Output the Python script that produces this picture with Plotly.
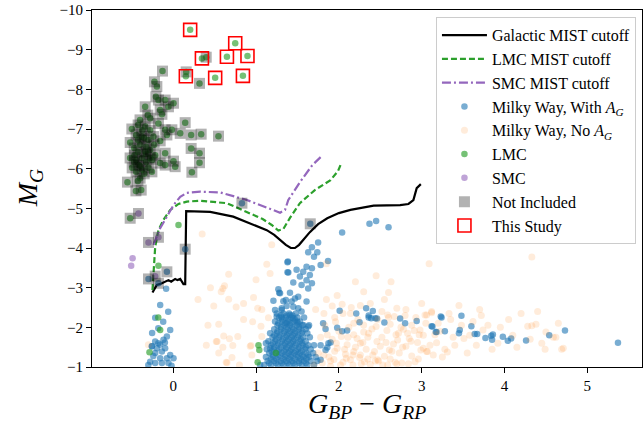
import plotly.graph_objects as go

# ---------------- cutoff curves ----------------
gal_x = [-0.25, -0.197, -0.136, -0.057, -0.024, 0.024, 0.052, 0.085, 0.124, 0.145, 0.157, 0.447, 0.725,
         1.13, 1.22, 1.29, 1.36, 1.42, 1.47, 1.52, 1.58, 1.65, 1.75, 1.86, 2.0, 2.14, 2.42, 2.74, 2.84,
         2.90, 2.94, 2.99]
gal_y = [-2.88, -3.07, -3.11, -3.19, -3.15, -3.22, -3.19, -3.22, -3.09, -3.09, -4.93, -4.91, -4.79,
         -4.45, -4.33, -4.20, -4.08, -4.00, -4.00, -4.08, -4.22, -4.40, -4.60, -4.75, -4.88, -4.96, -5.07,
         -5.08, -5.11, -5.21, -5.51, -5.61]

lmc_cut_x = [-0.25, -0.238, -0.217, -0.178, -0.117, -0.036, 0.064, 0.165, 0.326, 0.649, 0.93, 1.08,
             1.19, 1.27, 1.33, 1.41, 1.53, 1.71, 1.90, 1.99, 2.02]
lmc_cut_y = [-2.94, -3.45, -4.03, -4.45, -4.71, -4.96, -5.11, -5.17, -5.19, -5.13, -4.88, -4.73,
             -4.58, -4.44, -4.48, -4.76, -5.13, -5.46, -5.71, -5.94, -6.09]

smc_cut_x = [-0.238, -0.157, -0.076, 0.004, 0.085, 0.165, 0.326, 0.568, 0.89, 1.11, 1.21, 1.29, 1.35,
             1.39, 1.53, 1.68, 1.78]
smc_cut_y = [-4.08, -4.50, -4.79, -5.08, -5.29, -5.39, -5.42, -5.40, -5.21, -5.03, -4.96, -4.89, -4.96,
             -5.21, -5.66, -6.09, -6.29]

# ---------------- Milky Way, with A_G ----------------
mw_ag_x = [
    # main cluster, scattered
    1.675, 1.75, 1.63, 1.74, 1.70, 1.78, 1.87, 1.385, 1.61, 1.675, 1.49, 1.57, 1.39, 1.65, 1.53, 1.61,
    1.45, 1.675, 1.55, 1.63, 1.27, 1.29, 1.41, 1.51, 1.47, 1.21, 1.33, 1.43, 1.61, 1.37, 1.45, 1.51,
    1.23, 1.31, 1.55, 1.41, 1.45, 1.25, 1.31, 1.50, 1.37, 1.57, 1.63, 1.38, 1.38, 1.28, 1.36, 1.31,
    # dense core
    1.10, 1.18, 1.26, 1.33, 1.40, 1.47, 1.55, 1.62, 1.70,
    1.14, 1.22, 1.30, 1.37, 1.44, 1.52, 1.58, 1.66, 1.74,
    1.12, 1.20, 1.27, 1.35, 1.42, 1.50, 1.57, 1.64, 1.72,
    1.16, 1.24, 1.31, 1.39, 1.46, 1.53, 1.61, 1.69,
    1.13, 1.21, 1.28, 1.36, 1.43, 1.51, 1.59, 1.66,
    1.18, 1.26, 1.34, 1.41, 1.48, 1.56, 1.63, 1.70,
    1.15, 1.23, 1.31, 1.38, 1.45, 1.53, 1.60,
    1.20, 1.28, 1.36, 1.43, 1.50, 1.57, 1.65,
    1.17, 1.25, 1.33, 1.40, 1.47, 1.55, 1.62,
    1.22, 1.30, 1.38, 1.45, 1.52, 1.60,
    1.26, 1.34, 1.41, 1.49, 1.56, 1.64,
    1.23, 1.31, 1.39, 1.46, 1.53,
    1.28, 1.36, 1.43, 1.50, 1.58,
    1.25, 1.33, 1.40, 1.48,
    1.16, 1.24, 1.31, 1.38, 1.45, 1.52, 1.60,
    1.18, 1.25, 1.33, 1.40, 1.47, 1.54, 1.61,
    1.20, 1.28, 1.35, 1.42, 1.49, 1.56, 1.63,
    1.19, 1.26, 1.34, 1.41, 1.48, 1.55,
    1.22, 1.30, 1.37, 1.44, 1.52, 1.60,
    1.20, 1.27, 1.35, 1.42, 1.49, 1.56,
    1.24, 1.32, 1.39, 1.46, 1.54,
    1.22, 1.29, 1.37, 1.44, 1.51,
    1.26, 1.34, 1.41, 1.48, 1.56,
    1.30, 1.37, 1.44, 1.52,
    1.27, 1.35, 1.42, 1.50,
    1.32, 1.39, 1.47,
    1.30, 1.37, 1.44,
    1.05, 1.12, 1.17, 1.78, 1.84, 1.875, 1.81, 1.84, 1.90, 1.86, 1.78,
    # upper scattered
    2.04, 2.37, 2.45, 2.60, 1.655, 0.83, 0.145,
    # spread into red-giant region
    2.01, 2.21, 2.33, 2.41, 2.36, 2.39, 2.46, 2.55, 2.74, 2.80, 2.94, 2.25, 1.98, 2.04, 2.10, 3.13,
    3.18, 3.23, 2.44, 2.36,
    # tail
    3.24, 3.48, 3.12, 3.17, 3.28, 3.46, 3.45, 3.60, 3.64, 3.67, 3.77, 3.84, 3.86, 3.85, 3.98, 4.04,
    4.08, 4.26, 4.54, 4.73, 5.37,
    # blue-left clump
    -0.076, -0.117, -0.217, -0.18, -0.157, -0.257, -0.197, -0.097, -0.136, -0.217, -0.036, 0.004,
    -0.076, -0.157, -0.278, -0.217, -0.136, -0.057, -0.257, -0.157, -0.06, -0.217, -0.12, -0.18,
    -0.036, -0.254, -0.085, -0.076, -0.298, -0.178, -0.30, -0.02, -0.24, -0.10,
]
mw_ag_y = [
    -4.02, -4.14, -3.89, -3.89, -3.78, -3.57, -3.67, -3.66, -3.53, -3.49, -3.45, -3.40, -3.38, -3.32, -3.28, -3.19,
    -3.13, -3.11, -3.07, -2.98, -2.96, -2.86, -2.87, -2.77, -2.73, -2.67, -2.66, -2.65, -2.65, -2.54, -2.52, -2.48,
    -2.44, -2.44, -2.40, -2.31, -2.23, -2.27, -2.25, -2.14, -2.10, -2.06, -2.02, -3.64, -3.39, -2.87, -2.69, -2.48,
    -1.05, -1.05, -1.05, -1.05, -1.05, -1.05, -1.05, -1.05, -1.05,
    -1.15, -1.15, -1.15, -1.15, -1.15, -1.15, -1.15, -1.15, -1.15,
    -1.25, -1.25, -1.25, -1.25, -1.25, -1.25, -1.25, -1.25, -1.25,
    -1.35, -1.35, -1.35, -1.35, -1.35, -1.35, -1.35, -1.35,
    -1.45, -1.45, -1.45, -1.45, -1.45, -1.45, -1.45, -1.45,
    -1.55, -1.55, -1.55, -1.55, -1.55, -1.55, -1.55, -1.55,
    -1.65, -1.65, -1.65, -1.65, -1.65, -1.65, -1.65,
    -1.75, -1.75, -1.75, -1.75, -1.75, -1.75, -1.75,
    -1.85, -1.85, -1.85, -1.85, -1.85, -1.85, -1.85,
    -1.95, -1.95, -1.95, -1.95, -1.95, -1.95,
    -2.05, -2.05, -2.05, -2.05, -2.05, -2.05,
    -2.15, -2.15, -2.15, -2.15, -2.15,
    -2.25, -2.25, -2.25, -2.25, -2.25,
    -2.35, -2.35, -2.35, -2.35,
    -1.10, -1.10, -1.10, -1.10, -1.10, -1.10, -1.10,
    -1.20, -1.20, -1.20, -1.20, -1.20, -1.20, -1.20,
    -1.30, -1.30, -1.30, -1.30, -1.30, -1.30, -1.30,
    -1.40, -1.40, -1.40, -1.40, -1.40, -1.40,
    -1.50, -1.50, -1.50, -1.50, -1.50, -1.50,
    -1.60, -1.60, -1.60, -1.60, -1.60, -1.60,
    -1.70, -1.70, -1.70, -1.70, -1.70,
    -1.80, -1.80, -1.80, -1.80, -1.80,
    -1.90, -1.90, -1.90, -1.90, -1.90,
    -2.00, -2.00, -2.00, -2.00,
    -2.10, -2.10, -2.10, -2.10,
    -2.20, -2.20, -2.20,
    -2.30, -2.30, -2.30,
    -1.05, -1.60, -1.47, -1.18, -1.43, -1.60, -2.10, -1.96, -1.62, -1.49, -1.55,
    -4.39, -4.61, -4.68, -4.52, -4.61, -5.13, -3.97,
    -2.42, -2.35, -2.48, -2.41, -2.30, -2.23, -2.22, -2.12, -2.22, -2.10, -2.16, -2.13, -1.99, -1.90, -1.92, -2.02,
    -1.88, -2.27, -2.23, -2.25,
    -2.25, -2.29, -2.03, -1.88, -1.90, -1.93, -1.85, -2.03, -1.83, -1.83, -1.73, -1.79, -1.82, -1.69, -1.76, -1.66,
    -1.72, -1.67, -1.80, -1.92, -1.61,
    -1.77, -1.69, -1.64, -1.60, -1.56, -1.52, -1.47, -1.47, -1.39, -1.35, -1.30, -1.22,
    -1.22, -1.22, -1.13, -1.10, -1.10, -1.10, -1.52, -2.56, -2.39, -2.24, -2.14, -1.98,
    -1.93, -1.86, -2.97, -3.40, -3.22, -3.11, -1.05, -1.03, -1.28, -1.62,
]

# ---------------- Milky Way, no A_G ----------------
mw_noag_x = [
    2.63, 2.60, 1.92, 2.04, 2.26, 2.14, 1.96, 1.82, 2.59, 2.67, 2.81, 3.06, 3.12, 2.18, 2.30, 2.45,
    2.69, 2.83, 2.97, 1.86, 2.03, 2.18, 2.36, 2.46, 2.26, 2.10, 1.98, 2.71, 2.85, 2.99, 3.07, 2.81,
    2.61, 2.43, 2.26, 1.94, 2.09, 2.31, 2.47, 2.76, 2.92, 2.17, 2.59, 1.82, 2.18,
    0.35, 1.19, 0.67, 0.62, 0.58, 0.60, 1.13, 1.17, 0.67, 0.49, 0.76, 0.97, 1.02, 1.07, 1.15, 0.55,
    0.96, 1.06, 0.61, 0.53, 0.68, 0.72, 0.78, 0.60, 0.93, 0.71, 0.65, 0.52, 0.64, -0.30, 1.07, 0.94,
    3.09, 4.33, 3.04, 3.12, 3.51, 3.74, 4.28, 4.38, 4.33, 4.50, 4.59, 4.62, 4.69, 4.71, 4.49, 3.18,
    3.31, 3.02, 3.06, 4.31, 3.16, 2.98,
    1.80, 1.88, 1.95, 2.02, 2.08, 2.14, 2.20, 2.25, 2.33, 2.38, 2.41, 2.50, 2.55, 2.62, 2.66, 2.73,
    2.78, 2.88, 2.95, 1.92, 2.00, 2.12, 2.22, 2.30, 2.40, 2.52, 2.58, 2.62, 2.75, 2.88, 2.93, 2.52,
    2.38, 2.15, 1.95, 2.70, 3.20, 3.35, 3.40, 3.55, 3.62, 3.80, 3.92, 4.05, 4.15, 3.25, 3.00, 3.45,
    3.70, 2.20, 1.85, 0.40, 0.85, 0.45, 4.40, 1.85, 2.48, 2.05, 2.35, 2.70, 1.90,
    1.75, 1.78, 1.83, 1.90, 1.97, 2.05, 2.07, 2.11, 2.17, 2.23, 2.27, 2.29, 2.35, 2.44, 2.47, 2.53,
    2.57, 2.60, 2.64, 2.68, 2.72, 2.77, 2.80, 2.84, 2.87, 2.91, 2.96, 3.02, 3.05, 3.10, 3.14, 3.22,
    3.28, 3.33, 3.38, 3.48, 3.58, 3.66, 3.72, 3.85, 3.95, 4.10, 4.20, 4.45, 4.65, 1.70, 1.72, 1.98,
    2.30, 2.55, 2.45, 0.30, 0.95, 0.80, 0.55, 0.85, 1.00, 0.42,
]
mw_noag_y = [
    -3.15, -2.88, -2.54, -2.58, -2.55, -2.35, -2.14, -2.35, -2.31, -2.27, -2.45, -2.31, -2.40, -2.10, -2.06, -2.02,
    -1.81, -1.85, -1.81, -1.81, -1.77, -1.81, -1.85, -1.64, -1.60, -1.56, -1.47, -1.68, -1.72, -1.43, -1.39, -1.52,
    -1.43, -1.39, -1.30, -1.19, -1.22, -1.13, -1.18, -1.10, -1.13, -1.05, -1.05, -1.30, -1.39,
    -4.35, -4.08, -3.34, -3.05, -2.90, -2.98, -3.59, -3.36, -2.71, -2.54, -2.51, -2.75, -2.48, -2.45, -2.24, -2.08,
    -2.14, -2.03, -1.78, -1.64, -1.71, -1.54, -1.77, -1.50, -1.52, -1.24, -1.11, -1.64, -1.12, -1.56, -1.77, -1.54,
    -3.60, -3.77, -2.31, -2.37, -1.72, -1.93, -2.03, -2.08, -2.04, -1.88, -1.75, -1.75, -1.45, -1.47, -1.45, -1.61,
    -1.38, -1.47, -1.39, -1.70, -1.81, -1.93,
    -1.10, -1.25, -1.40, -1.05, -1.32, -1.18, -1.50, -1.24, -1.45, -1.06, -1.30, -1.52, -1.27, -1.20, -1.58, -1.35,
    -1.95, -1.28, -1.62, -1.70, -1.90, -2.00, -1.72, -1.88, -1.96, -1.75, -1.92, -2.08, -2.00, -2.05, -2.25, -2.40,
    -2.60, -2.50, -2.25, -2.48, -2.10, -2.20, -1.55, -1.35, -2.15, -2.05, -1.60, -2.20, -1.50, -1.25, -2.60, -2.55,
    -2.45, -3.15, -2.70, -1.55, -2.20, -3.00, -2.40, -3.60, -1.15, -1.12, -1.20, -1.08, -1.02,
    -1.35, -1.75, -2.05, -1.15, -1.60, -2.35, -1.45, -1.75, -1.30, -2.20, -1.08, -1.62, -1.75, -1.15, -2.20, -1.05,
    -1.62, -2.25, -1.40, -1.12, -1.85, -1.50, -2.30, -1.08, -1.65, -1.92, -1.20, -1.80, -2.10, -1.55, -1.30, -1.90,
    -1.45, -2.35, -1.75, -2.05, -1.80, -1.55, -2.30, -1.45, -2.00, -1.80, -2.35, -1.60, -2.10, -1.05, -2.45, -2.80,
    -2.90, -2.70, -3.30, -2.70, -1.30, -1.05, -1.35, -2.60, -3.20, -2.05,
]

# ---------------- LMC ----------------
lmc_x = [
    -0.129, -0.226, -0.197, -0.209, -0.178, -0.097, -0.338, 0.004, -0.057, -0.157, -0.136, -0.306,
    -0.278, 0.145, -0.178, -0.499, -0.338, -0.097, -0.016, 0.085, -0.076, 0.217, 0.338, 0.547,
    -0.519, -0.157, -0.378, -0.238, 0.217, 0.318, -0.097, -0.217, -0.467, -0.338, 0.004, 0.318,
    -0.157, -0.097, 0.024, -0.419, -0.257, 0.226, -0.399, -0.552, -0.426, -0.45, -0.386,
    -0.423, -0.374, -0.447, -0.30, -0.40, -0.47, -0.326, -0.423, -0.278, -0.374, -0.447, -0.326,
    -0.40, -0.495, -0.30, -0.447, -0.35, -0.254, -0.23, -0.278, -0.40, -0.35, -0.423, -0.278,
    -0.374, -0.47, -0.52, -0.326,
    0.399, 0.157, 0.318,
    0.205, 0.749, 0.897, 0.649, 0.347, 0.153, 0.507, 0.842,
    0.064, -0.178, -0.519, 1.04, 1.02, 1.24, 1.03, -0.286, -0.157, -0.18,
]
lmc_y = [
    -8.46, -8.19, -8.07, -7.81, -7.73, -7.73, -7.56, -7.65, -7.56, -7.48, -7.37, -7.35,
    -7.27, -7.16, -7.14, -7.00, -7.06, -6.98, -6.98, -6.89, -6.85, -6.85, -6.87, -6.82,
    -6.66, -6.70, -6.81, -6.81, -6.51, -6.39, -6.39, -6.34, -6.34, -6.43, -6.19, -6.15,
    -6.14, -6.09, -6.05, -6.09, -5.92, -5.91, -5.76, -5.66, -5.69, -5.44, -5.46,
    -7.10, -6.97, -6.85, -6.72, -6.60, -6.52, -6.55, -6.42, -6.47, -6.27, -6.22, -6.17,
    -6.07, -6.02, -6.02, -5.92, -5.87, -6.22, -6.60, -6.97, -7.23, -6.77, -6.72, -6.27,
    -5.97, -6.17, -6.27, -6.37,
    -8.81, -8.44, -8.15,
    -9.50, -9.16, -8.84, -8.82, -8.78, -8.33, -8.29, -8.34,
    -4.58, -3.55, -4.75, -1.43, -1.12, -1.35, -1.55, -1.37, -1.93, -2.25,
]

# ---------------- SMC ----------------
smc_x = [-0.419, -0.298, -0.178, -0.217, -0.49, -0.507]
smc_y = [-4.87, -4.14, -4.27, -3.29, -3.74, -3.55]

# ---------------- Not included ----------------
excl_x = lmc_x[:78] + [-0.519, -0.419, -0.298, -0.178, 0.145, -0.076, -0.298, -0.217, -0.178, 1.655, 0.83]
excl_y = lmc_y[:78] + [-4.75, -4.87, -4.14, -4.27, -3.97, -3.40, -3.22, -3.29, -3.11, -4.61, -5.13]

# ---------------- This study ----------------
study_x = [0.205, 0.749, 0.897, 0.649, 0.347, 0.153, 0.507, 0.842]
study_y = [-9.50, -9.16, -8.84, -8.82, -8.78, -8.33, -8.29, -8.34]

x_ticks = [0, 1, 2, 3, 4, 5]

fig = go.Figure()
fig.add_trace(go.Scatter(x=gal_x, y=gal_y, mode="lines", name="Galactic MIST cutoff",
                         line=dict(color="black", width=2.2)))
fig.add_trace(go.Scatter(x=lmc_cut_x, y=lmc_cut_y, mode="lines", name="LMC MIST cutoff",
                         line=dict(color="#2ca02c", width=2.2, dash="6px,3px")))
fig.add_trace(go.Scatter(x=smc_cut_x, y=smc_cut_y, mode="lines", name="SMC MIST cutoff",
                         line=dict(color="#9467bd", width=2.2, dash="9px,3px,2px,3px")))
fig.add_trace(go.Scatter(x=mw_ag_x, y=mw_ag_y, mode="markers",
                         name="Milky Way, With <i>A<sub>G</sub></i>",
                         marker=dict(color="rgba(31,119,180,0.6)", size=6.5, line=dict(width=0))))
fig.add_trace(go.Scatter(x=mw_noag_x, y=mw_noag_y, mode="markers",
                         name="Milky Way, No <i>A<sub>G</sub></i>",
                         marker=dict(color="rgba(255,127,14,0.15)", size=7, line=dict(width=0))))
fig.add_trace(go.Scatter(x=lmc_x, y=lmc_y, mode="markers", name="LMC",
                         marker=dict(color="rgba(44,160,44,0.65)", size=6.5, line=dict(width=0))))
fig.add_trace(go.Scatter(x=smc_x, y=smc_y, mode="markers", name="SMC",
                         marker=dict(color="rgba(148,103,189,0.6)", size=6.5, line=dict(width=0))))
fig.add_trace(go.Scatter(x=excl_x, y=excl_y, mode="markers", name="Not Included",
                         marker=dict(symbol="square", color="rgba(0,0,0,0.3)", size=11, line=dict(width=0))))
fig.add_trace(go.Scatter(x=study_x, y=study_y, mode="markers", name="This Study",
                         marker=dict(symbol="square-open", color="red", size=13, line=dict(width=1.6, color="red"))))

axis_common = dict(ticks="outside", ticklen=5, tickwidth=1, tickcolor="black", showline=True,
                   linecolor="black", linewidth=1.2, mirror=True, showgrid=False, zeroline=False,
                   automargin=False, tickfont=dict(size=15, color="black"))

fig.update_layout(
    width=644, height=423,
    margin=dict(l=92, r=2, t=10, b=56),
    plot_bgcolor="white", paper_bgcolor="white",
    font=dict(family="Liberation Serif", color="black"),
    xaxis=dict(range=[-0.98, 5.66], tickvals=x_ticks, **axis_common),
    yaxis=dict(range=[-1, -10], dtick=1, **axis_common),
    legend=dict(x=0.989, y=0.98, xanchor="right", yanchor="top",
                bgcolor="rgba(255,255,255,0.8)", bordercolor="#cccccc", borderwidth=1,
                font=dict(size=16), tracegroupgap=0, itemwidth=45),
    showlegend=True,
    annotations=[
        dict(text="<i>G</i><sub><i>BP</i></sub> − <i>G</i><sub><i>RP</i></sub>",
             xref="paper", yref="paper", x=0.5, y=-0.052, xanchor="center", yanchor="top",
             showarrow=False, font=dict(size=28)),
        dict(text="<i>M</i><sub><i>G</i></sub>", textangle=-90,
             xref="paper", yref="paper", x=-0.113, y=0.5, xanchor="center", yanchor="middle",
             showarrow=False, font=dict(size=28)),
    ],
)

fig.write_html("out.html", config={"displayModeBar": False},
               post_script="document.body.style.margin='0';document.body.style.padding='0';")
